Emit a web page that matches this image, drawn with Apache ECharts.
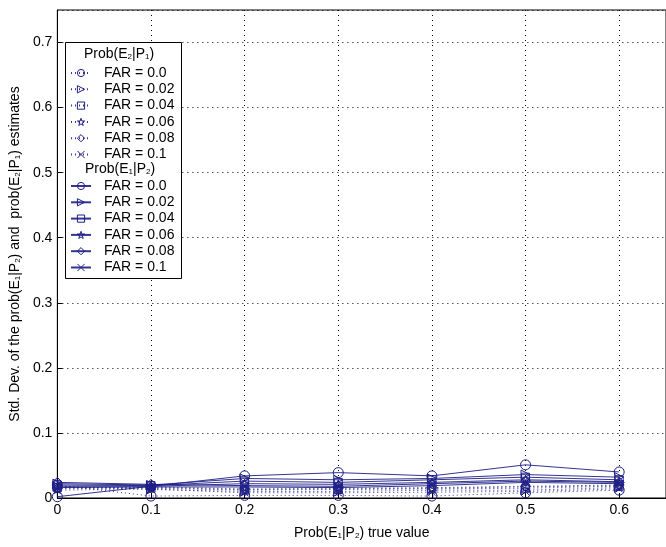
<!DOCTYPE html>
<html><head><meta charset="utf-8">
<script src="https://cdn.jsdelivr.net/npm/echarts@6/dist/echarts.min.js"></script>
<style>html,body{margin:0;padding:0;background:#fff}#c{width:666px;height:547px}</style>
</head><body><div id="c"></div>
<script>
const xValues = [0, 0.1, 0.2, 0.3, 0.4, 0.5, 0.6];
const farLabels = ['FAR = 0.0', 'FAR = 0.02', 'FAR = 0.04', 'FAR = 0.06', 'FAR = 0.08', 'FAR = 0.1'];
// Prob(E2|P1) estimates (dotted)
const e2p1_far000 = [0.020, 0.003, 0.004, 0.004, 0.003, 0.008, 0.012];
const e2p1_far002 = [0.018, 0.013, 0.010, 0.010, 0.012, 0.012, 0.016];
const e2p1_far004 = [0.016, 0.015, 0.012, 0.013, 0.014, 0.015, 0.018];
const e2p1_far006 = [0.014, 0.016, 0.013, 0.014, 0.015, 0.017, 0.019];
const e2p1_far008 = [0.015, 0.017, 0.014, 0.015, 0.016, 0.018, 0.020];
const e2p1_far010 = [0.012, 0.014, 0.008, 0.008, 0.009, 0.010, 0.014];
// Prob(E1|P2) estimates (solid)
const e1p2_far000 = [0.002, 0.018, 0.034, 0.039, 0.034, 0.051, 0.040];
const e1p2_far002 = [0.022, 0.020, 0.030, 0.028, 0.030, 0.036, 0.032];
const e1p2_far004 = [0.020, 0.019, 0.026, 0.024, 0.028, 0.032, 0.028];
const e1p2_far006 = [0.018, 0.018, 0.022, 0.021, 0.024, 0.028, 0.025];
const e1p2_far008 = [0.024, 0.021, 0.019, 0.018, 0.022, 0.026, 0.024];
const e1p2_far010 = [0.016, 0.017, 0.017, 0.016, 0.019, 0.024, 0.022];

const dottedData = [e2p1_far000, e2p1_far002, e2p1_far004, e2p1_far006, e2p1_far008, e2p1_far010];
const solidData = [e1p2_far000, e1p2_far002, e1p2_far004, e1p2_far006, e1p2_far008, e1p2_far010];

const NAVY = '#1e1e86';
const symbols = [
  'circle',
  'path://M0,0 L10,5 L0,10 Z',
  'rect',
  'path://M5,0 L6.2,3.6 L10,3.6 L6.9,5.9 L8.1,9.5 L5,7.3 L1.9,9.5 L3.1,5.9 L0,3.6 L3.8,3.6 Z',
  'diamond',
  'path://M0,0 L10,10 M10,0 L0,10'
];
const sizes = [10, 9, 8, 9, 10, 7];

const font = 'Liberation Sans, Arial, Helvetica, sans-serif';
const series = [];
function mk(prefix, arr, dashed) {
  arr.forEach((vals, i) => {
    series.push({
      name: prefix + '|' + farLabels[i],
      type: 'line',
      data: vals.map((v, k) => [xValues[k], v]),
      symbol: symbols[i],
      symbolSize: sizes[i],
      showSymbol: true,
      itemStyle: { color: 'rgba(255,255,255,0)', borderColor: NAVY, borderWidth: 1 },
      lineStyle: { color: NAVY, width: 1, type: dashed ? [1, 3] : 'solid', opacity: 0.9 },
      emphasis: { disabled: true },
      animation: false
    });
  });
}
mk('A', dottedData, true);
mk('B', solidData, false);

const subRich = {
  n: { fontFamily: font, fontSize: 14, color: '#000' },
  s: { fontFamily: font, fontSize: 8, color: '#000', verticalAlign: 'bottom', padding: [0, 0, 0, 0] }
};

const legendCommon = {
  orient: 'vertical',
  itemWidth: 20, itemHeight: 9, itemGap: 0.3,
  itemStyle: { borderWidth: 1 },
  textStyle: { fontFamily: font, fontSize: 14, lineHeight: 16, color: '#000', padding: [0, 0, 0, 8] },
  formatter: n => n.split('|')[1],
  selectedMode: false
};

const chart = echarts.init(document.getElementById('c'), null, { renderer: 'canvas' });
chart.setOption({
  backgroundColor: '#fff',
  animation: false,
  grid: { left: 56, top: 10, width: 621, height: 488, show: true, borderColor: '#000', borderWidth: 1, containLabel: false },
  xAxis: {
    type: 'value', min: 0, max: 0.65, interval: 0.1,
    axisLine: { show: true, lineStyle: { color: '#000', width: 1 } },
    axisTick: { inside: true, length: 5, lineStyle: { color: '#000' } },
    axisLabel: { showMaxLabel: false, color: '#000', fontFamily: font, fontSize: 14, margin: 5,
      formatter: v => (v > 0.61 ? '' : String(Math.round(v * 10) / 10)) },
    splitLine: { show: true, lineStyle: { color: '#000', type: [1, 4], width: 1 } },
    name: '{n|Prob(E}{s|1}{n||P}{s|2}{n|) true value}', nameLocation: 'middle', nameGap: 28,
    nameTextStyle: { color: '#000', fontFamily: font, fontSize: 14, rich: subRich }
  },
  yAxis: {
    type: 'value', min: 0, max: 0.75, interval: 0.1,
    axisLine: { show: true, lineStyle: { color: '#000', width: 1 } },
    axisTick: { inside: true, length: 5, lineStyle: { color: '#000' } },
    axisLabel: { showMaxLabel: false, color: '#000', fontFamily: font, fontSize: 14, margin: 5,
      formatter: v => (v > 0.71 ? '' : (v === 0 ? '0' : String(Math.round(v * 10) / 10))) },
    splitLine: { show: true, lineStyle: { color: '#000', type: [1, 4], width: 1 } },
    name: '{n|Std. Dev. of the prob(E}{s|1}{n||P}{s|2}{n|) and  prob(E}{s|2}{n||P}{s|1}{n|) estimates}',
    nameLocation: 'middle', nameGap: 30,
    nameTextStyle: { color: '#000', fontFamily: font, fontSize: 14, rich: subRich }
  },
  legend: [
    Object.assign({}, legendCommon, { left: 65, top: 60, data: series.slice(0, 6).map(s => s.name) }),
    Object.assign({}, legendCommon, { left: 65, top: 173, data: series.slice(6).map(s => s.name) })
  ],
  graphic: [
    { type: 'rect', z: 1, shape: { x: 65.5, y: 42.5, width: 116, height: 236 },
      style: { fill: '#fff', stroke: '#000', lineWidth: 1 } },
    { type: 'text', z: 5, left: 84, top: 47,
      style: { text: '{n|Prob(E}{s|2}{n||P}{s|1}{n|)}', rich: subRich, fill: '#000' } },
    { type: 'text', z: 5, left: 85, top: 162,
      style: { text: '{n|Prob(E}{s|1}{n||P}{s|2}{n|)}', rich: subRich, fill: '#000' } }
  ],
  series: series
});
</script>
</body></html>
